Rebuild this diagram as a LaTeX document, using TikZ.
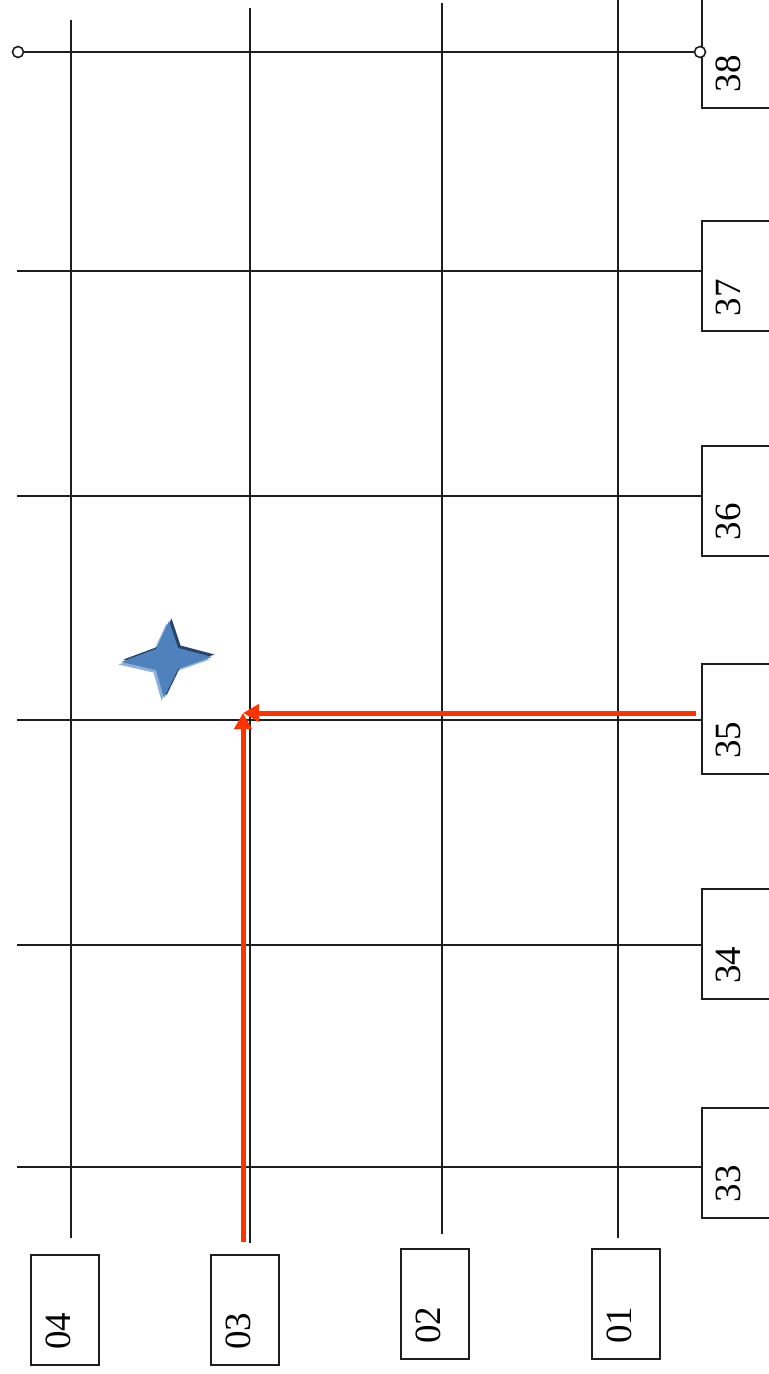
\documentclass[tikz,border=0pt]{standalone}
\usepackage{fontspec}
\setmainfont{Liberation Serif}
\usetikzlibrary{arrows.meta}
\definecolor{gridc}{RGB}{30,30,30}
\definecolor{redc}{RGB}{255,51,0}
\definecolor{starc}{RGB}{79,129,189}
\definecolor{stardark}{RGB}{38,68,110}
\definecolor{starlight}{RGB}{140,175,220}
\tikzset{
  gridline/.style={draw=gridc, line width=1pt},
  numbox/.style={draw=gridc, line width=1pt, rectangle, minimum width=34pt, minimum height=55pt, inner sep=0pt},
  numtext/.style={rotate=90, inner sep=0pt, font=\fontsize{18.5}{20}\selectfont},
  redarrow/.style={draw=redc, line width=2.5pt, -{Triangle[width=8.5pt,length=8pt]}},
  endcirc/.style={circle, draw=gridc, fill=white, line width=0.8pt, minimum size=5.5pt, inner sep=0pt}
}
\begin{document}
\begin{tikzpicture}[x=0.5pt,y=-0.5pt]
\useasboundingbox[fill=white] (0,0) rectangle (768,1374);

% vertical grid lines
\coordinate (v1t) at (71,20);   \coordinate (v1b) at (71,1238);
\coordinate (v2t) at (250,8);   \coordinate (v2b) at (250,1243);
\coordinate (v3t) at (442,3);   \coordinate (v3b) at (442,1234);
\coordinate (v4t) at (618,0);   \coordinate (v4b) at (618,1238);
\draw[gridline] (v1t) -- (v1b);
\draw[gridline] (v2t) -- (v2b);
\draw[gridline] (v3t) -- (v3b);
\draw[gridline] (v4t) -- (v4b);

% right boxes
\node[numbox] (b38) at (736,53) {};
\node[numbox] (b37) at (736,276.5) {};
\node[numbox] (b36) at (736,500.5) {};
\node[numbox] (b35) at (736,719) {};
\node[numbox] (b34) at (736,944) {};
\node[numbox] (b33) at (736,1162.5) {};
\node[numtext] (t38) at (728,74) {38};
\node[numtext] (t37) at (728,297.5) {37};
\node[numtext] (t36) at (728,521.5) {36};
\node[numtext] (t35) at (728,740) {35};
\node[numtext] (t34) at (728,965) {34};
\node[numtext] (t33) at (728,1183.5) {33};

% bottom boxes
\node[numbox] (b04) at (65,1310) {};
\node[numbox] (b03) at (244.5,1310) {};
\node[numbox] (b02) at (434.5,1304) {};
\node[numbox] (b01) at (625.5,1304) {};
\node[numtext] (t04) at (58.5,1331) {04};
\node[numtext] (t03) at (238,1331) {03};
\node[numtext] (t02) at (428,1325) {02};
\node[numtext] (t01) at (619,1325) {01};

% horizontal grid lines
\coordinate (h1) at (17,52);
\coordinate (h2) at (17,271);
\coordinate (h3) at (17,496);
\coordinate (h4) at (17,720);
\coordinate (h5) at (17,945);
\coordinate (h6) at (17,1167);
\node[endcirc] (cl) at (18,52) {};
\node[endcirc] (cr) at (700,52) {};
\draw[gridline] (cl) -- (cr);
\draw[gridline] (h2) -- (h2 -| b37.west);
\draw[gridline] (h3) -- (h3 -| b36.west);
\draw[gridline] (h4) -- (h4 -| b35.west);
\draw[gridline] (h5) -- (h5 -| b34.west);
\draw[gridline] (h6) -- (h6 -| b33.west);

% red arrows
\coordinate (tgt) at (243,713);
\coordinate (s1) at (243,1242);
\coordinate (s2) at (696,713);
\draw[redarrow] (s2) -- (tgt);
\draw[redarrow] (s1) -- (tgt);

% star
\def\starpath{(169,621) -- (178,648) -- (212,657) -- (178,669) -- (164,698) -- (156,670) -- (121,662) -- (156,649) -- cycle}
\begin{scope}[shift={(-2.5,2.5)}]
\fill[starlight] \starpath;
\end{scope}
\begin{scope}[shift={(2.5,-2.5)}]
\fill[stardark] \starpath;
\end{scope}
\fill[starc] \starpath;
\end{tikzpicture}
\end{document}
